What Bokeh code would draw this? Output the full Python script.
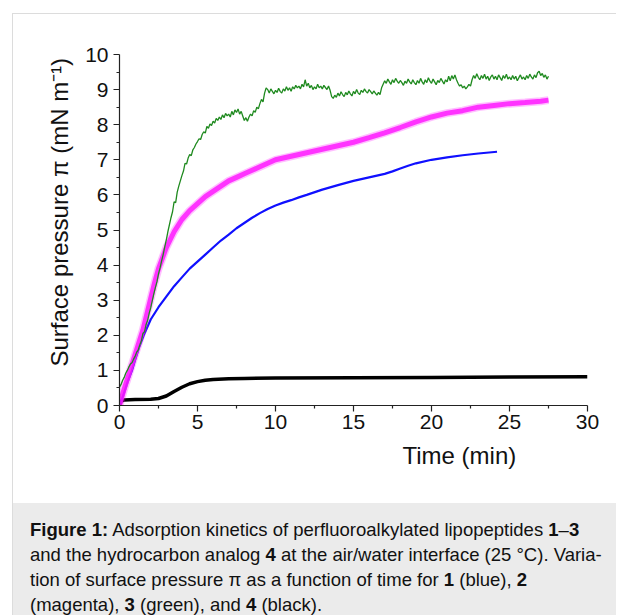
import math
from bokeh.plotting import figure
from bokeh.models import Range1d, FixedTicker, Title, Div
from bokeh.layouts import column
from bokeh.embed import file_html
from bokeh.resources import INLINE

# ---------------- data ----------------
x_ticks = [0, 5, 10, 15, 20, 25, 30]
x_minor = [2.5, 7.5, 12.5, 17.5, 22.5, 27.5]
y_ticks = [0, 1, 2, 3, 4, 5, 6, 7, 8, 9, 10]
y_minor = [0.5, 1.5, 2.5, 3.5, 4.5, 5.5, 6.5, 7.5, 8.5, 9.5]

# compound 1 (blue)
blue_t = [0, 0.25, 0.5, 0.8, 1.0, 1.25, 1.55, 2.0, 2.5, 3.0, 3.5, 4.0, 4.5, 5.0,
          5.5, 6.0, 6.5, 7.0, 7.5, 8.0, 8.5, 9.0, 9.5, 10.0, 10.5, 11.0, 11.5,
          12.0, 13.0, 14.0, 15.0, 16.0, 17.0, 17.5, 18.0, 18.5, 19.0, 20.0,
          21.0, 22.0, 23.0, 24.2]
blue_v = [0, 0.3, 0.65, 1.0, 1.3, 1.65, 2.0, 2.45, 2.8, 3.1, 3.4, 3.65, 3.9, 4.1,
          4.3, 4.5, 4.7, 4.87, 5.05, 5.2, 5.35, 5.48, 5.6, 5.7, 5.78, 5.85, 5.93,
          6.0, 6.15, 6.28, 6.4, 6.5, 6.6, 6.67, 6.75, 6.83, 6.9, 7.0,
          7.07, 7.13, 7.18, 7.23]

# compound 2 (magenta)
magenta_t = [0, 0.25, 0.5, 0.75, 1.0, 1.25, 1.5, 1.75, 2.0, 2.25, 2.5, 2.75, 3.0,
             3.5, 4.0, 4.5, 5.0, 5.5, 6.0, 6.5, 7.0, 7.5, 8.0, 8.5, 9.0, 9.5,
             10.0, 11.0, 12.0, 13.0, 14.0, 15.0, 16.0, 17.0, 18.0, 19.0, 20.0,
             21.0, 22.0, 23.0, 24.0, 25.0, 26.0, 27.0, 27.5]
magenta_v = [0, 0.4, 0.75, 1.1, 1.45, 1.8, 2.15, 2.6, 3.05, 3.5, 3.9, 4.2, 4.5,
             4.95, 5.3, 5.55, 5.75, 5.95, 6.1, 6.25, 6.4, 6.5, 6.6, 6.7, 6.8, 6.9,
             7.0, 7.1, 7.2, 7.3, 7.4, 7.5, 7.63, 7.77, 7.92, 8.08, 8.22,
             8.33, 8.4, 8.5, 8.55, 8.6, 8.63, 8.67, 8.7]

# compound 3 (green), sampled every 0.1 min from t = 0
green_step = 0.1
green_v = [
    0.52, 0.60, 0.72, 0.80, 0.92, 1.00, 1.10, 1.18, 1.22, 1.32,
    1.40, 1.52, 1.58, 1.72, 1.84, 2.05, 2.10, 2.30, 2.42, 2.62,
    2.78, 2.98, 3.18, 3.36, 3.52, 3.75, 3.92, 4.12, 4.30, 4.52,
    4.72, 4.95, 5.15, 5.35, 5.52, 5.80, 5.78, 6.08, 6.25, 6.40,
    6.55, 6.68, 6.90, 6.88, 7.05, 7.15, 7.12, 7.28, 7.35, 7.45,
    7.52, 7.60, 7.58, 7.72, 7.80, 7.76, 7.95, 7.90, 8.02, 7.98,
    8.10, 8.05, 8.18, 8.12, 8.22, 8.15, 8.28, 8.20, 8.32, 8.25,
    8.30, 8.22, 8.38, 8.28, 8.42, 8.35, 8.45, 8.30, 8.38, 8.25,
    8.12, 8.20, 8.10, 8.22, 8.30, 8.25, 8.40, 8.35, 8.50, 8.45,
    8.60, 8.72, 8.65, 8.90, 9.05, 9.00, 8.90, 9.02, 8.95, 8.88,
    8.98, 8.92, 9.04, 8.95, 8.90, 9.02, 8.96, 9.08, 8.98, 9.05,
    8.95, 9.08, 9.02, 9.12, 9.05, 9.10, 9.02, 9.15, 9.08, 9.28,
    9.10, 9.18, 9.05, 9.12, 9.00, 9.08, 9.02, 9.15, 9.05, 9.10,
    9.02, 9.12, 9.06, 9.00, 9.10, 8.98, 8.80, 8.75, 8.84, 8.78,
    8.90, 8.82, 8.94, 8.86, 8.80, 8.92, 8.85, 8.96, 8.88, 8.82,
    8.95, 8.88, 9.00, 8.90, 8.86, 8.98, 8.92, 9.02, 8.95, 8.90,
    9.00, 8.94, 8.88, 8.96, 8.90, 8.84, 8.92, 8.86, 9.05, 9.15,
    9.25, 9.18, 9.30, 9.22, 9.15, 9.28, 9.20, 9.32, 9.24, 9.18,
    9.26, 9.20, 9.12, 9.24, 9.18, 9.30, 9.22, 9.16, 9.28, 9.20,
    9.14, 9.26, 9.18, 9.32, 9.22, 9.15, 9.28, 9.20, 9.34, 9.24,
    9.18, 9.30, 9.22, 9.14, 9.26, 9.20, 9.32, 9.24, 9.16, 9.28,
    9.22, 9.38, 9.25, 9.40, 9.30, 9.42, 9.28, 9.18, 9.10, 9.14,
    9.05, 9.10, 9.02, 9.08, 9.15, 9.10, 9.28, 9.40, 9.32, 9.45,
    9.35, 9.28, 9.40, 9.32, 9.44, 9.30, 9.38, 9.26, 9.36, 9.42,
    9.30, 9.38, 9.28, 9.42, 9.34, 9.26, 9.40, 9.32, 9.44, 9.30,
    9.36, 9.28, 9.40, 9.30, 9.38, 9.25, 9.34, 9.42, 9.30, 9.36,
    9.28, 9.40, 9.32, 9.44, 9.36, 9.30, 9.42, 9.34, 9.48, 9.52,
    9.40, 9.46, 9.35, 9.42, 9.30, 9.38,
]
green_t = [round(i * green_step, 2) for i in range(len(green_v))]

# compound 4 (black)
black_t = [0, 0.1, 0.3, 1.0, 2.0, 2.5, 3.0, 3.5, 4.0, 4.5, 5.0, 5.5, 6.0, 7.0,
           8.0, 10.0, 15.0, 20.0, 25.0, 30.0]
black_v = [0, 0.12, 0.16, 0.17, 0.18, 0.2, 0.27, 0.4, 0.52, 0.62, 0.68, 0.72,
           0.74, 0.76, 0.77, 0.78, 0.79, 0.80, 0.81, 0.82]

x_title = "Time (min)"
y_title = "Surface pressure \u03c0 (mN m\u207b\u00b9)"

FONT = "Liberation Sans"
INK = "#111111"

# ---------------- figure ----------------
p = figure(width=604, height=490, output_backend="svg", toolbar_location=None,
           x_range=Range1d(0, 30), y_range=Range1d(0, 10),
           min_border_left=106, min_border_right=30,
           min_border_top=40, min_border_bottom=99,
           margin=(13, 0, 0, 12),
           styles={"border-left": "1px solid #dcdcdc",
                   "border-top": "1px solid #dcdcdc"})
p.outline_line_color = None
p.xgrid.visible = False
p.ygrid.visible = False

p.line(black_t, black_v, color="black", line_width=3.5)
p.line(blue_t, blue_v, color="#1010ff", line_width=2.2)
p.line(magenta_t, magenta_v, color="#ff00ff", line_width=8, line_alpha=0.25)
p.line(magenta_t, magenta_v, color="#ff1aff", line_width=5, line_alpha=0.85)
p.line(green_t, green_v, color="#1f8a1f", line_width=1.3)

for ax, ticks, minor in ((p.xaxis[0], x_ticks, x_minor), (p.yaxis[0], y_ticks, y_minor)):
    ax.ticker = FixedTicker(ticks=ticks, minor_ticks=minor)
    ax.axis_line_color = "#222222"
    ax.axis_line_width = 1.2
    ax.major_tick_line_color = "#222222"
    ax.minor_tick_line_color = "#222222"
    ax.major_tick_line_width = 1.2
    ax.minor_tick_line_width = 1.2
    ax.major_tick_in = 0
    ax.minor_tick_in = 0
    ax.major_tick_out = 6
    ax.minor_tick_out = 3
    ax.major_label_text_font = FONT
    ax.major_label_text_font_size = "21px"
    ax.major_label_text_color = INK

p.xaxis[0].major_label_standoff = 3
p.yaxis[0].major_label_standoff = 5

xt = Title(text=x_title, align="left", offset=283,
           text_font=FONT, text_font_size="24px",
           text_font_style="normal", text_color=INK)
yt = Title(text=y_title, align="left", offset=39,
           text_font=FONT, text_font_size="24px",
           text_font_style="normal", text_color=INK)
try:
    xt.standoff = 16
    yt.standoff = 20
except Exception:
    pass
p.add_layout(xt, "below")
p.add_layout(yt, "left")

caption_html = (
    '<div style="padding:14px 0 0 17px; font-family:\'Liberation Sans\', Arial, sans-serif;'
    ' font-size:18.5px; line-height:25px; color:#111; white-space:nowrap;">'
    '<b>Figure 1:</b> Adsorption kinetics of perfluoroalkylated lipopeptides <b>1</b>&ndash;<b>3</b><br>'
    'and the hydrocarbon analog <b>4</b> at the air/water interface (25 &deg;C). Varia-<br>'
    'tion of surface pressure &pi; as a function of time for <b>1</b> (blue), <b>2</b><br>'
    '(magenta), <b>3</b> (green), and <b>4</b> (black).'
    '</div>'
)
cap = Div(text=caption_html, width=604, height=112, margin=(0, 0, 0, 12),
          styles={"background-color": "#ebebeb", "border-left": "1px solid #dcdcdc",
                  "overflow": "hidden"})

layout = column(p, cap, spacing=0)
open("out.html", "w").write(file_html(layout, INLINE))
